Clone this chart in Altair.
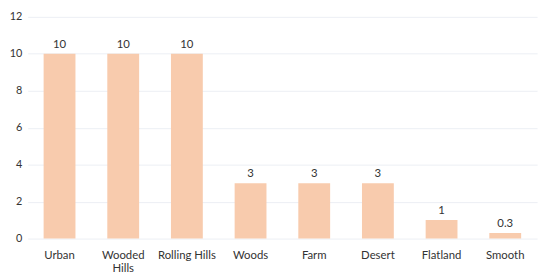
import altair as alt
import pandas as pd

categories = ["Urban", "Wooded Hills", "Rolling Hills", "Woods", "Farm", "Desert", "Flatland", "Smooth"]
values = [10, 10, 10, 3, 3, 3, 1, 0.3]

df = pd.DataFrame({"cat": categories, "val": values})

x = alt.X("cat:N", sort=categories, title=None,
          scale=alt.Scale(paddingInner=0.5, paddingOuter=0.25),
          axis=alt.Axis(labelAngle=0, domain=False, ticks=False, labelPadding=11,
                        labelFontSize=11.5, labelColor="#333333", labelFont="Lato",
                        labelLineHeight=13, labelOverlap=False,
                        labelExpr="datum.label == 'Wooded Hills' ? ['Wooded', 'Hills'] : datum.label"))
y = alt.Y("val:Q", title=None,
          scale=alt.Scale(domain=[0, 12], nice=False),
          axis=alt.Axis(values=[0, 2, 4, 6, 8, 10, 12], domain=False, ticks=False,
                        labelPadding=6, labelFontSize=11, labelColor="#333333", labelFont="Lato",
                        labelOverlap=False, gridColor="#eceff4", gridWidth=1))

bars = alt.Chart(df).mark_bar(color="#F8CBAD").encode(x=x, y=y)
labels = alt.Chart(df).mark_text(baseline="bottom", dy=-4, fontSize=11.5, color="#333333", font="Lato").encode(
    x=x,
    y=y,
    text=alt.Text("val:Q"),
)

chart = (bars + labels).properties(
    width=517, height=225,
    background="white",
    autosize=alt.AutoSizeParams(type="none"),
    padding={"left": 20, "top": 7, "right": 5, "bottom": 37},
).configure_view(stroke=None).configure_axis(labelOverlap=False)

chart.save("out.html", embed_options={"renderer": "svg", "actions": False})
